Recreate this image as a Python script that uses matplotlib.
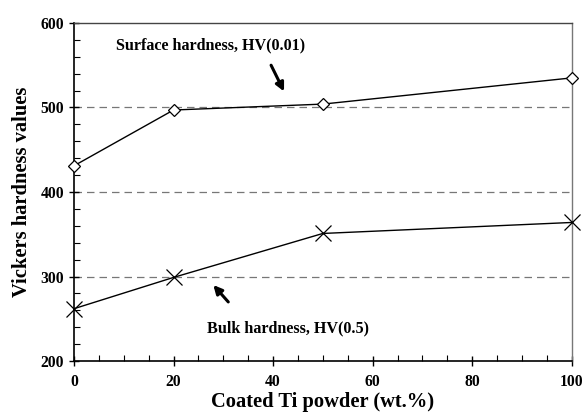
import numpy as np
import matplotlib.pyplot as plt
from matplotlib.ticker import MultipleLocator

plt.rcParams['font.family'] = ['Liberation Serif', 'DejaVu Serif']
plt.rcParams['font.weight'] = 'bold'

ti_content = [0, 20, 50, 100]
surface_hv = [431, 497, 504, 535]
bulk_hv = [262, 299, 351, 364]

fig = plt.figure(figsize=(5.87, 4.17), dpi=100)
ax = fig.add_axes([0.126, 0.134, 0.848, 0.811])

for y in [300, 400, 500]:
    ax.axhline(y, color='#777777', linestyle=(0, (6, 4)), linewidth=0.9, zorder=1)

ax.plot(ti_content, surface_hv, color='black', linewidth=1.0, marker='D',
        markersize=6, markerfacecolor='white', markeredgecolor='black',
        markeredgewidth=0.9, zorder=3, clip_on=False)
ax.plot(ti_content, bulk_hv, color='black', linewidth=1.0, marker='x',
        markersize=11, markeredgewidth=0.9, zorder=3, clip_on=False)

ax.text(27.5, 574, 'Surface hardness, HV(0.01)', ha='center', va='center',
        fontsize=11.6, fontweight='bold')
ax.annotate('', xy=(42.2, 519), xytext=(39.6, 550),
            arrowprops=dict(arrowstyle='-|>,head_length=0.5,head_width=0.25',
                            color='black', lw=2.2, shrinkA=0, shrinkB=0))
ax.text(43, 239, 'Bulk hardness, HV(0.5)', ha='center', va='center',
        fontsize=11.6, fontweight='bold')
ax.annotate('', xy=(28.0, 290), xytext=(31.0, 270),
            arrowprops=dict(arrowstyle='-|>,head_length=0.5,head_width=0.25',
                            color='black', lw=2.2, shrinkA=0, shrinkB=0))

ax.set_xlim(0, 100)
ax.set_ylim(200, 600)
ax.xaxis.set_major_locator(MultipleLocator(20))
ax.xaxis.set_minor_locator(MultipleLocator(5))
ax.yaxis.set_major_locator(MultipleLocator(100))
ax.yaxis.set_minor_locator(MultipleLocator(20))
ax.tick_params(which='major', direction='inout', length=7, width=1.0, labelsize=11.3)
ax.tick_params(which='minor', direction='in', length=4, width=0.8)
ax.tick_params(axis='x', pad=6)

ax.spines['left'].set_linewidth(1.2)
ax.spines['bottom'].set_linewidth(1.2)
ax.spines['top'].set_color('#444444')
ax.spines['right'].set_color('#777777')
ax.spines['top'].set_linewidth(1.0)
ax.spines['right'].set_linewidth(1.0)

ax.set_xlabel('Coated Ti powder (wt.%)', fontsize=14.8, fontweight='bold', labelpad=1)
ax.set_ylabel('Vickers hardness values', fontsize=14.8, fontweight='bold', labelpad=6)

fig.savefig('out.png', dpi=100)
